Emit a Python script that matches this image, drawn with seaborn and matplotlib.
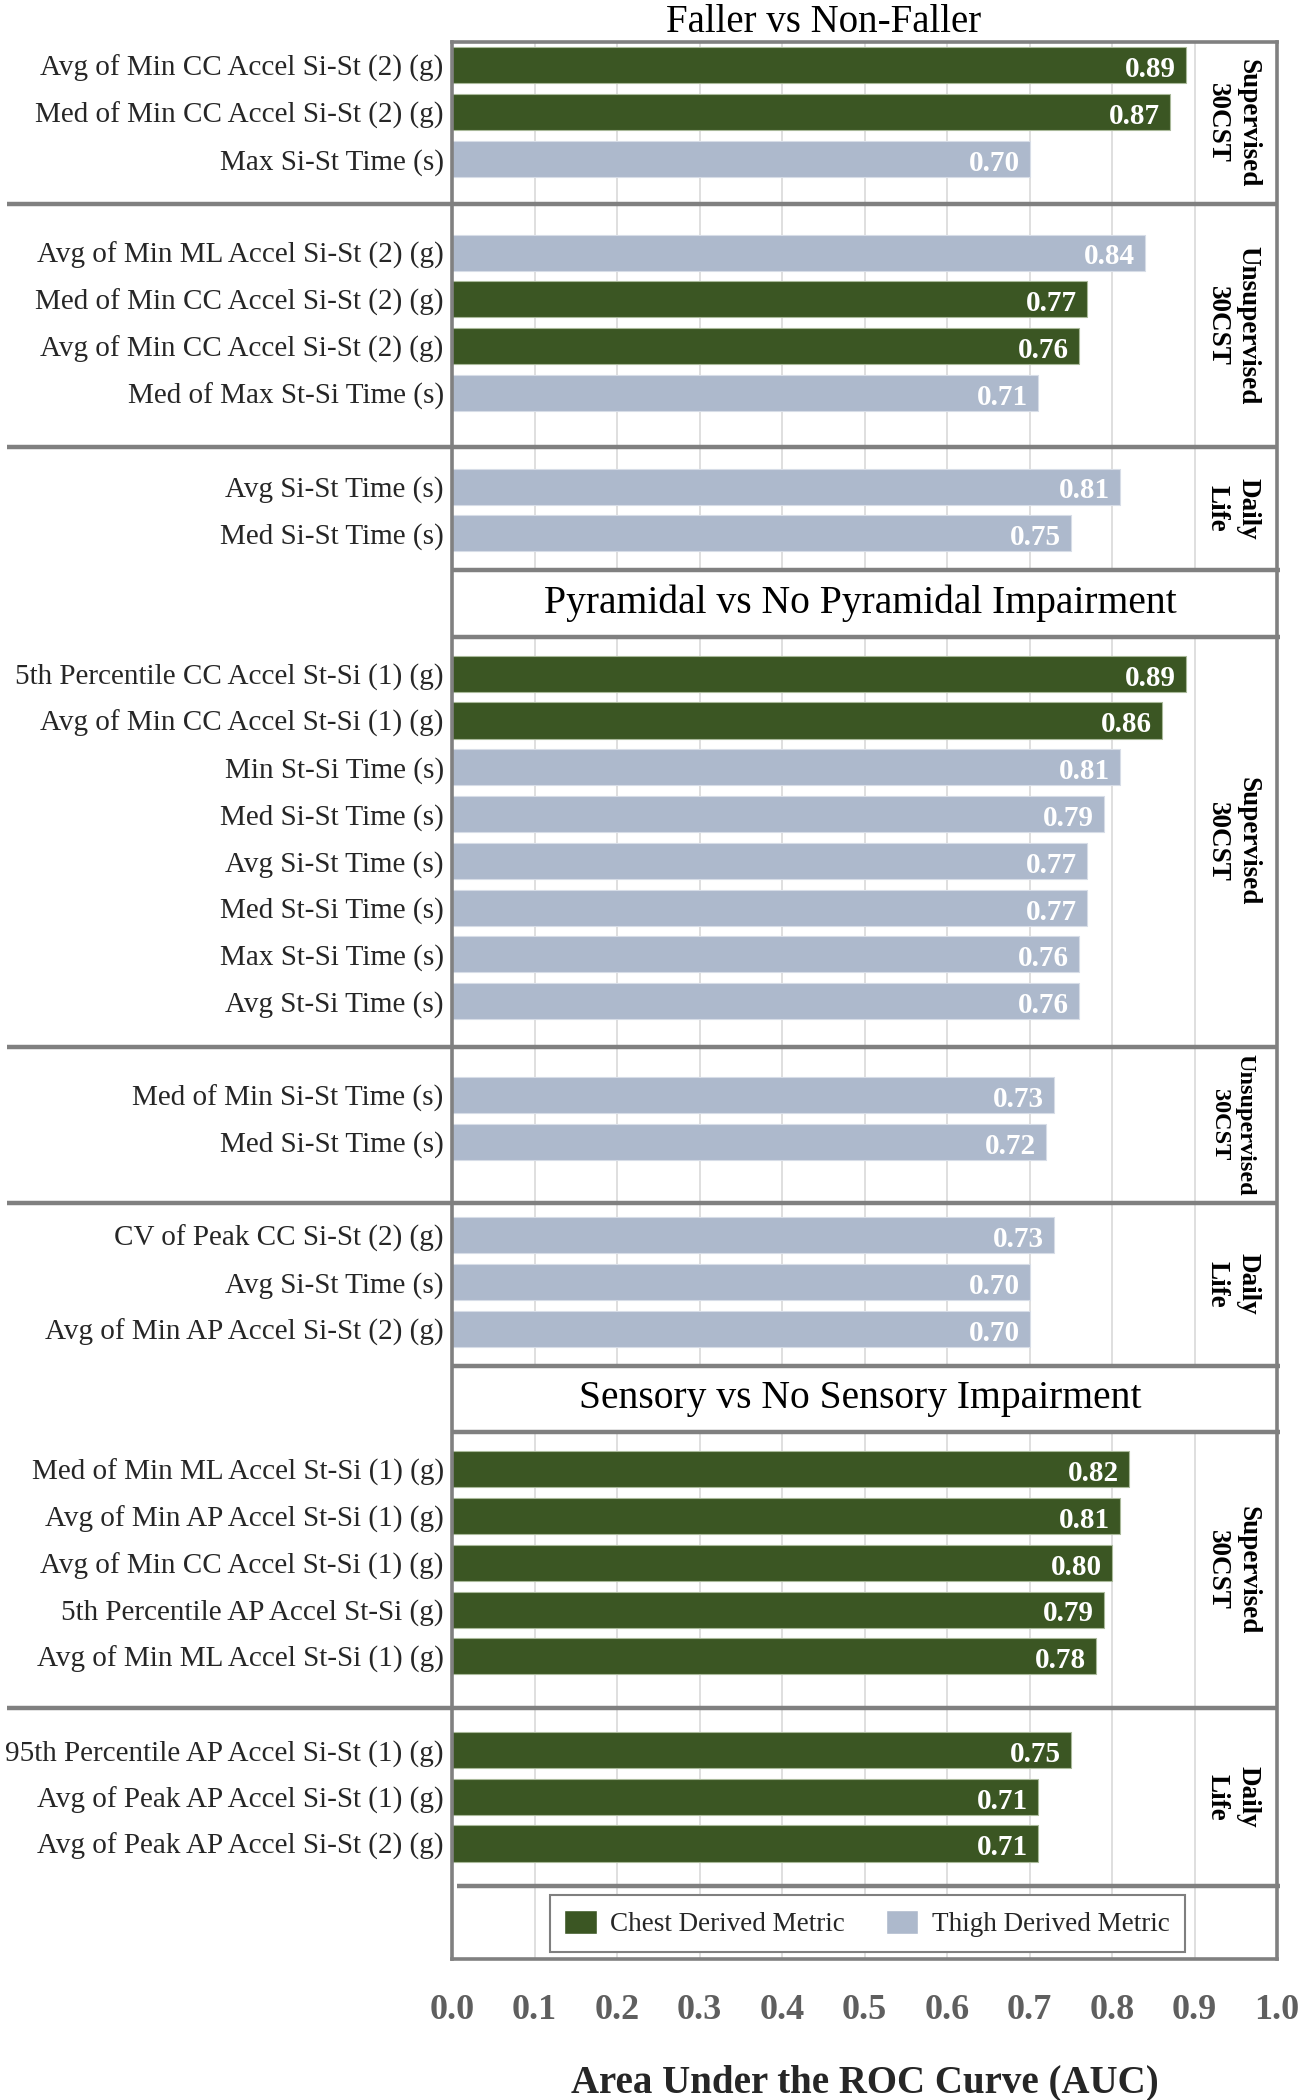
import numpy as np
import pandas as pd
import seaborn as sns
import matplotlib
matplotlib.use("Agg")
import matplotlib.pyplot as plt
import matplotlib.transforms as mtransforms

# ---------------- data ----------------
comparisons = ["Faller vs Non-Faller",
               "Pyramidal vs No Pyramidal Impairment",
               "Sensory vs No Sensory Impairment"]
settings = ["Supervised\n30CST", "Unsupervised\n30CST", "Daily\nLife"]
sensor_names = {"Chest": "Chest Derived Metric", "Thigh": "Thigh Derived Metric"}

fall_sup_metrics = ["Avg of Min CC Accel Si-St (2) (g)", "Med of Min CC Accel Si-St (2) (g)",
                    "Max Si-St Time (s)"]
fall_sup_auc = [0.89, 0.87, 0.70]
fall_sup_sensor = ["Chest", "Chest", "Thigh"]

fall_unsup_metrics = ["Avg of Min ML Accel Si-St (2) (g)", "Med of Min CC Accel Si-St (2) (g)",
                      "Avg of Min CC Accel Si-St (2) (g)", "Med of Max St-Si Time (s)"]
fall_unsup_auc = [0.84, 0.77, 0.76, 0.71]
fall_unsup_sensor = ["Thigh", "Chest", "Chest", "Thigh"]

fall_daily_metrics = ["Avg Si-St Time (s)", "Med Si-St Time (s)"]
fall_daily_auc = [0.81, 0.75]
fall_daily_sensor = ["Thigh", "Thigh"]

pyr_sup_metrics = ["5th Percentile CC Accel St-Si (1) (g)", "Avg of Min CC Accel St-Si (1) (g)",
                   "Min St-Si Time (s)", "Med Si-St Time (s)", "Avg Si-St Time (s)",
                   "Med St-Si Time (s)", "Max St-Si Time (s)", "Avg St-Si Time (s)"]
pyr_sup_auc = [0.89, 0.86, 0.81, 0.79, 0.77, 0.77, 0.76, 0.76]
pyr_sup_sensor = ["Chest", "Chest", "Thigh", "Thigh", "Thigh", "Thigh", "Thigh", "Thigh"]

pyr_unsup_metrics = ["Med of Min Si-St Time (s)", "Med Si-St Time (s)"]
pyr_unsup_auc = [0.73, 0.72]
pyr_unsup_sensor = ["Thigh", "Thigh"]

pyr_daily_metrics = ["CV of Peak CC Si-St (2) (g)", "Avg Si-St Time (s)",
                     "Avg of Min AP Accel Si-St (2) (g)"]
pyr_daily_auc = [0.73, 0.70, 0.70]
pyr_daily_sensor = ["Thigh", "Thigh", "Thigh"]

sens_sup_metrics = ["Med of Min ML Accel St-Si (1) (g)", "Avg of Min AP Accel St-Si (1) (g)",
                    "Avg of Min CC Accel St-Si (1) (g)", "5th Percentile AP Accel St-Si (g)",
                    "Avg of Min ML Accel St-Si (1) (g)"]
sens_sup_auc = [0.82, 0.81, 0.80, 0.79, 0.78]
sens_sup_sensor = ["Chest", "Chest", "Chest", "Chest", "Chest"]

sens_daily_metrics = ["95th Percentile AP Accel Si-St (1) (g)", "Avg of Peak AP Accel Si-St (1) (g)",
                      "Avg of Peak AP Accel Si-St (2) (g)"]
sens_daily_auc = [0.75, 0.71, 0.71]
sens_daily_sensor = ["Chest", "Chest", "Chest"]

xticks = [0.0, 0.1, 0.2, 0.3, 0.4, 0.5, 0.6, 0.7, 0.8, 0.9, 1.0]

structure = [
    (comparisons[0], [(settings[0], fall_sup_metrics, fall_sup_auc, fall_sup_sensor),
                      (settings[1], fall_unsup_metrics, fall_unsup_auc, fall_unsup_sensor),
                      (settings[2], fall_daily_metrics, fall_daily_auc, fall_daily_sensor)]),
    (comparisons[1], [(settings[0], pyr_sup_metrics, pyr_sup_auc, pyr_sup_sensor),
                      (settings[1], pyr_unsup_metrics, pyr_unsup_auc, pyr_unsup_sensor),
                      (settings[2], pyr_daily_metrics, pyr_daily_auc, pyr_daily_sensor)]),
    (comparisons[2], [(settings[0], sens_sup_metrics, sens_sup_auc, sens_sup_sensor),
                      (settings[2], sens_daily_metrics, sens_daily_auc, sens_daily_sensor)]),
]

# ---------------- layout (style constants) ----------------
SEP_OFFSETS = [0.47, 0.65, 0.47, 0.81, 0.60]
HEADER_TOP, HEADER_BOT = 0.285, 1.71
FINAL_SEP, BOTTOM = 0.41, 1.97
SIDE_FS = [19.5, 19.5, 19.5, 19.5, 17.5, 19.5, 19.5, 19.5]
GREEN, BLUE = "#3b5623", "#adb9cc"
FRAME = "#808080"

rows, seps, headers, sides = [], [], [], []
cursor = 0.0
sep_iter = iter(SEP_OFFSETS)
region_top = 0.0
pending = None
for ci, (title, groups) in enumerate(structure):
    if ci > 0:
        top, bot = cursor + HEADER_TOP, cursor + HEADER_BOT
        headers.append((top, bot, title))
        sides.append(((pending[0] + top) / 2, pending[1]))
        region_top = bot
        cursor += 2
    for gi, (setting, mets, aucs, sens) in enumerate(groups):
        if gi > 0:
            cursor += 1
        for k in range(len(mets)):
            rows.append(dict(metric=mets[k], auc=aucs[k], sensor=sensor_names[sens[k]],
                             pos=cursor + 0.5 + k))
        cursor += len(mets)
        if gi < len(groups) - 1:
            s = cursor + next(sep_iter)
            seps.append(s)
            sides.append(((region_top + s) / 2, setting))
            region_top = s
        else:
            pending = (region_top, setting)
final_sep = cursor + FINAL_SEP
sides.append(((pending[0] + final_sep) / 2, pending[1]))
ymax = cursor + BOTTOM

df = pd.DataFrame(rows)

# ---------------- plotting ----------------
sns.set_theme(style="white")
plt.rcParams["font.family"] = ["Liberation Serif", "DejaVu Serif"]

fig = plt.figure(figsize=(13.02, 21.0), dpi=100)
ax = fig.add_axes([0.3472, 0.0671, 0.6336, 0.9129])

hue_order = [sensor_names["Chest"], sensor_names["Thigh"]]
sns.barplot(data=df, x="auc", y="pos", hue="sensor", hue_order=hue_order,
            palette={hue_order[0]: GREEN, hue_order[1]: BLUE}, orient="y",
            native_scale=True, dodge=False, width=0.77, errorbar=None,
            saturation=1, ax=ax, zorder=2)

edge_tint = {hue_order[0]: "#a9b99a", hue_order[1]: "#d7dde7"}
for cont, name in zip(ax.containers, hue_order):
    for p in cont.patches:
        p.set_edgecolor(edge_tint[name])
        p.set_linewidth(0.8)

ax.set_xlim(0, 1)
ax.set_ylim(ymax, 0)

blend = mtransforms.blended_transform_factory(ax.transAxes, ax.transData)

# grid
ax.set_axisbelow(True)
ax.grid(axis="x", color="#d9d9d9", lw=1.2)
ax.grid(axis="y", visible=False)

for sp in ax.spines.values():
    sp.set_visible(True)
    sp.set_color(FRAME)
    sp.set_linewidth(2.6)

# headers
for top, bot, title in headers:
    ax.axhspan(top, bot, color="white", zorder=1.5)
    for yy in (top, bot):
        ax.plot([0, 1.004], [yy, yy], transform=blend, color=FRAME, lw=3.2,
                clip_on=False, zorder=4, solid_capstyle="butt")
    ax.text(0.495, (top + bot) / 2, title, transform=blend, ha="center", va="center",
            fontsize=28.5, color="black", zorder=5)

ax.text(0.45, -0.42, comparisons[0], transform=blend, ha="center", va="center",
        fontsize=28, color="black")

# separators between settings
for s in seps:
    ax.plot([-0.54, 1.0], [s, s], transform=blend, color=FRAME, lw=3.2,
            clip_on=False, zorder=4, solid_capstyle="butt")
ax.plot([0.006, 1.004], [final_sep, final_sep], transform=blend, color=FRAME, lw=3.2,
        clip_on=False, zorder=4, solid_capstyle="butt")

# side labels
for (yc, txt), fs in zip(sides, SIDE_FS):
    ax.text(0.946, yc, txt, transform=blend, rotation=270, ha="center", va="center",
            fontsize=fs, fontweight="bold", linespacing=1.3, color="black")

# value labels
for _, r in df.iterrows():
    ax.text(r["auc"] - 0.012, r["pos"] + 0.03, f"{r['auc']:.2f}", ha="right",
            va="center_baseline", color="white", fontsize=21, fontweight="bold", zorder=5)

# axes ticks
ax.set_yticks(df["pos"])
ax.set_yticklabels(df["metric"], fontsize=21)
ax.tick_params(axis="y", length=0, pad=6)
ax.set_xticks(xticks)
ax.set_xticklabels([f"{t:.1f}" for t in xticks], fontsize=26, fontweight="bold", color="#5f5f5f")
ax.tick_params(axis="x", length=0, pad=25)
ax.set_ylabel("")
ax.set_xlabel("Area Under the ROC Curve (AUC)", fontsize=28, fontweight="bold", va="center")
ax.xaxis.set_label_coords(0.5, -0.0645)

# legend
handles, labels = ax.get_legend_handles_labels()
leg = ax.legend(handles, labels, loc="center", bbox_to_anchor=(0.503, 0.0185), ncol=2,
                frameon=True, fancybox=False, edgecolor="#7f7f7f", framealpha=1,
                fontsize=19.5, handlelength=1.2, handleheight=1.0, handletextpad=0.5,
                columnspacing=1.5, borderpad=0.55, borderaxespad=0)
leg.get_frame().set_linewidth(1.5)
leg.set_zorder(6)

fig.savefig("out.png", dpi=100)
